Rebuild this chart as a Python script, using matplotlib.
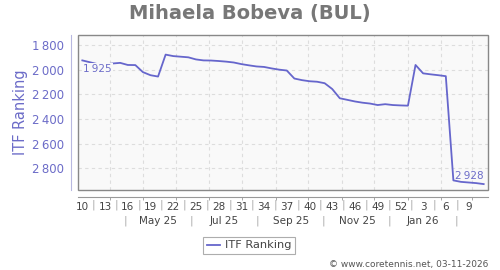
import matplotlib
matplotlib.use('Agg')
import matplotlib.pyplot as plt
import matplotlib.dates as mdates
import pandas as pd
from matplotlib.patches import Rectangle
from matplotlib.transforms import blended_transform_factory

# ---- data ----
first_week_date = '2025-03-06'
ranking = [1925, 1940, 1955, 1958, 1950, 1945, 1962, 1963, 2020, 2045,
           2056, 1878, 1890, 1895, 1900, 1917, 1925, 1926, 1930, 1935,
           1942, 1955, 1965, 1974, 1978, 1990, 2000, 2007, 2072, 2085,
           2094, 2098, 2110, 2157, 2232, 2245, 2258, 2268, 2275, 2287,
           2280, 2287, 2290, 2292, 1962, 2030, 2038, 2045, 2053, 2898,
           2910, 2915, 2920, 2928]
week_labels = ['10', '13', '16', '19', '22', '25', '28', '31', '34', '37',
               '40', '43', '46', '49', '52', '3', '6', '9']
month_labels = ['May 25', 'Jul 25', 'Sep 25', 'Nov 25', 'Jan 26']
y_ticks = [1800, 2000, 2200, 2400, 2600, 2800]
series_name = 'ITF Ranking'
title = 'Mihaela Bobeva (BUL)'
footer = '\u00a9 www.coretennis.net, 03-11-2026'

dates = pd.date_range(first_week_date, periods=len(ranking), freq='7D')

LINE = '#6666cc'
BLUE_TXT = '#6c6cc8'
GRAY_TXT = '#444444'

fig = plt.figure(figsize=(5, 2.7), dpi=100)
W, H = 500, 270
ax = fig.add_axes([78 / W, 1 - 190 / H, 410 / W, 155 / H])
ax.set_facecolor('#f9f9f9')

ax.plot(dates, ranking, color=LINE, lw=1.3, zorder=3)

ax.set_xlim(pd.Timestamp('2025-03-02'), pd.Timestamp('2026-03-16'))
ax.set_ylim(2976, 1719)

# spines
for s in ['top', 'right']:
    ax.spines[s].set_visible(False)
ax.spines['left'].set_position(('outward', 5))
ax.spines['left'].set_color('#b8b8e0')
ax.spines['bottom'].set_position(('outward', 5))
ax.spines['bottom'].set_color('#999999')
ax.add_patch(Rectangle((0, 0), 1, 1, transform=ax.transAxes, fill=False,
                       edgecolor='#888888', lw=1.0, zorder=4, clip_on=False))

# y axis
ax.set_yticks(y_ticks)
ax.set_yticklabels([f'{v:,}'.replace(',', '\u2009') for v in y_ticks])
ax.tick_params(axis='y', length=0, pad=5, labelsize=8.5, labelcolor=BLUE_TXT)

# x axis: week labels as major ticks, month starts as minor ticks
ax.set_xticks(dates[::3])
ax.set_xticklabels(week_labels)
ax.tick_params(axis='x', which='major', length=0, pad=4, labelsize=7.5,
               labelcolor=GRAY_TXT)
ax.xaxis.set_minor_locator(mdates.MonthLocator())
ax.tick_params(axis='x', which='minor', length=2, color='#999999')

ax.grid(axis='y', which='major', color='#dddddd', ls=(0, (3, 3)), lw=0.8)
ax.grid(axis='x', which='minor', color='#dddddd', ls=(0, (3, 3)), lw=0.8)
ax.set_axisbelow(True)

trans = blended_transform_factory(ax.transData, ax.transAxes)
wk_ticks = dates[::3]
for a, b in zip(wk_ticks[:-1], wk_ticks[1:]):
    mid = a + (b - a) / 2
    ax.text(mdates.date2num(mid), -0.097, '|', transform=trans, ha='center',
            va='center', fontsize=8, color='#aaaaaa', clip_on=False)

month_pos = [pd.to_datetime('15 ' + m, format='%d %b %y') for m in month_labels]
for m, p in zip(month_labels, month_pos):
    ax.text(mdates.date2num(p), -0.2, m, transform=trans, ha='center',
            va='center', fontsize=7.5, color=GRAY_TXT, clip_on=False)
seps = [p - pd.DateOffset(months=1) for p in month_pos] + [month_pos[-1] + pd.DateOffset(months=1)]
for s in seps:
    ax.text(mdates.date2num(s), -0.2, '|', transform=trans, ha='center',
            va='center', fontsize=8, color='#aaaaaa', clip_on=False)

# data labels
fmt = lambda v: f'{v:,}'.replace(',', '\u2009')
ax.annotate(fmt(ranking[0]), xy=(dates[0], ranking[0]), xytext=(0.5, -2.5),
            textcoords='offset points', ha='left', va='top', fontsize=7.5,
            color=BLUE_TXT, zorder=5,
            bbox=dict(boxstyle='square,pad=0.1', fc='#f9f9f9', ec='none'))
ax.annotate(fmt(ranking[-1]), xy=(dates[-1], ranking[-1]), xytext=(0, 2),
            textcoords='offset points', ha='right', va='bottom', fontsize=7.5,
            color=BLUE_TXT, zorder=5)

# texts
fig.text(0.5, 1 - 13 / H, title, ha='center', va='center', fontsize=14,
         fontweight='bold', color='#777777')
fig.text(20.5 / W, 1 - 112 / H, series_name, rotation=90, ha='center',
         va='center', fontsize=10.5, color=BLUE_TXT)
fig.text(488 / W, 1 - 264 / H, footer, ha='right', va='center', fontsize=6.5,
         color='#555555')

leg = fig.legend([plt.Line2D([], [], color=LINE, lw=1.3)], [series_name],
                 loc='center', bbox_to_anchor=(249 / W, 1 - 245.5 / H),
                 fontsize=8.2, frameon=True, fancybox=False, handlelength=1.2,
                 handletextpad=0.4, borderpad=0.35, borderaxespad=0)
leg.get_frame().set_edgecolor('#999999')
leg.get_frame().set_linewidth(0.8)
for t in leg.get_texts():
    t.set_color(GRAY_TXT)

fig.savefig('out.png', dpi=100)
